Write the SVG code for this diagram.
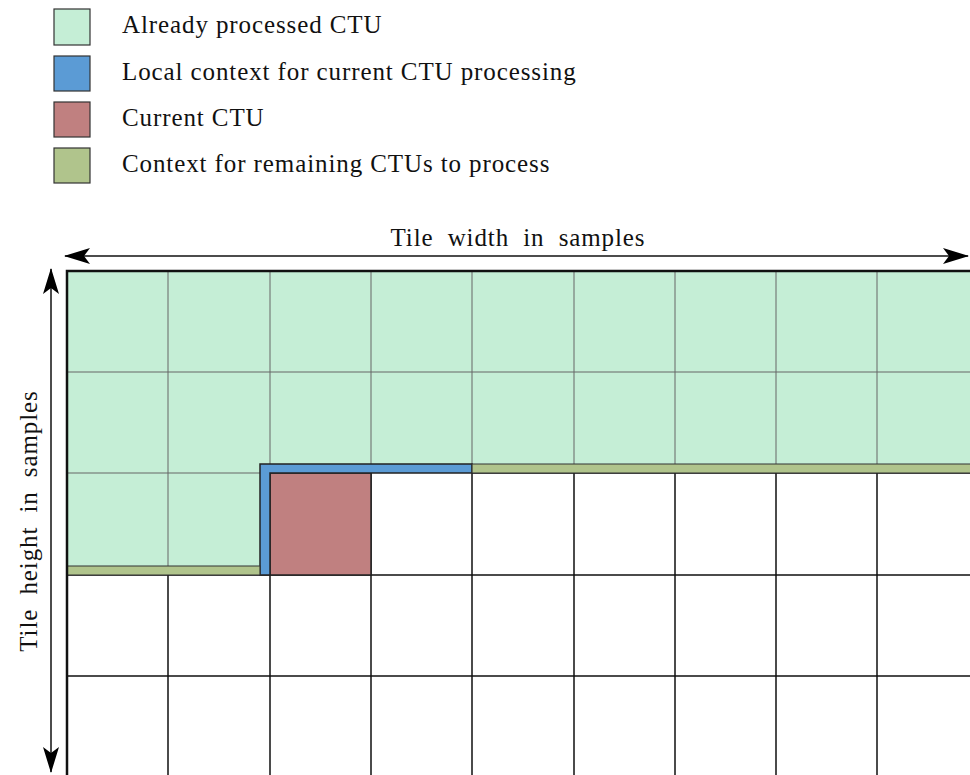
<svg xmlns="http://www.w3.org/2000/svg" width="970" height="775" viewBox="0 0 970 775">
<style>
.t{font-family:"Liberation Serif","Times New Roman",serif;font-size:25px;letter-spacing:0.9px;fill:#111}
.g{stroke:#666;stroke-width:1;fill:none}
.k{stroke:#111;stroke-width:1.5;fill:none}
.sw{stroke:#333;stroke-width:1.2}
</style>
<defs>
<marker id="ah" viewBox="0 0 26 16" refX="25" refY="8" markerWidth="26" markerHeight="16" markerUnits="userSpaceOnUse" orient="auto-start-reverse">
<path d="M0,0 L26,8 L0,16 L6,8 Z" fill="#000"/>
</marker>
</defs>
<g id="legend">
<g id="leg1"><rect class="sw" x="54" y="9" width="36" height="36" fill="#c5eed6"/><text class="t" x="122" y="33">Already processed CTU</text></g>
<g id="leg2"><rect class="sw" x="54" y="56" width="36" height="35" fill="#5b9bd5"/><text class="t" x="122" y="80">Local context for current CTU processing</text></g>
<g id="leg3"><rect class="sw" x="54" y="102" width="36" height="35" fill="#c08080"/><text class="t" x="122" y="126">Current CTU</text></g>
<g id="leg4"><rect class="sw" x="54" y="148" width="36" height="35" fill="#b0c48c"/><text class="t" x="122" y="172">Context for remaining CTUs to process</text></g>
</g>
<g id="tile">
<path d="M67,271 H970 V473 H270 V575 H67 Z" fill="#c5eed6"/>
<g class="g">
<path d="M168,271V566 M270,271V464 M371,271V464 M472,271V464 M574,271V464 M675,271V464 M776,271V464 M877,271V464"/>
<path d="M67,372H970 M67,473H260"/>
</g>
<g class="k">
<path d="M168,575V775 M270,575V775 M371,473V775 M472,473V775 M574,473V775 M675,473V775 M776,473V775 M877,473V775"/>
<path d="M67,575H970 M67,676H970 M472,473H970"/>
</g>
<rect id="current" x="270" y="473" width="101" height="102" fill="#c08080" stroke="#222" stroke-width="1.5"/>
<path id="local" d="M260,464 H472 V473 H270 V575 H260 Z" fill="#5b9bd5" stroke="#222" stroke-width="1.5"/>
<path id="rem1" d="M472,464 H971 V473 H472 Z" fill="#b0c48c" stroke="#333" stroke-width="1.2"/>
<path id="rem2" d="M67,566 H260 V575 H67 Z" fill="#b0c48c" stroke="#333" stroke-width="1.2"/>
<path d="M67,775 V271 H970" fill="none" stroke="#111" stroke-width="2.5"/>
</g>
<g id="connectors">
<line x1="65" y1="256" x2="968" y2="256" stroke="#111" stroke-width="1.5" marker-start="url(#ah)" marker-end="url(#ah)"/>
<line x1="51" y1="269" x2="51" y2="772" stroke="#111" stroke-width="1.5" marker-start="url(#ah)" marker-end="url(#ah)"/>
</g>
<text class="t" x="518" y="246" text-anchor="middle" word-spacing="7">Tile width in samples</text>
<text class="t" transform="translate(37,521) rotate(-90)" text-anchor="middle" word-spacing="7">Tile height in samples</text>
</svg>
